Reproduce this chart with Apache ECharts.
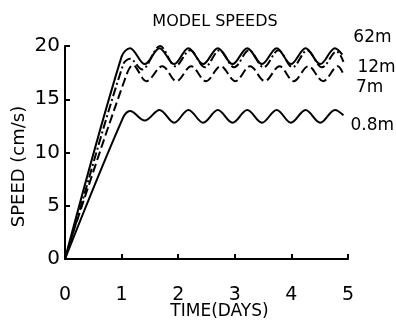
<!DOCTYPE html>
<html><head><meta charset="utf-8">
<script src="https://cdn.jsdelivr.net/npm/echarts@6/dist/echarts.min.js"></script>
<style>html,body{margin:0;padding:0;background:#fff}#c{width:396px;height:320px}</style>
</head><body><div id="c"></div>
<script>
const xTicks = [0, 1, 2, 3, 4, 5];
const yTicks = [0, 5, 10, 15, 20];
const seriesNames = ['62m', '12m', '7m', '0.8m'];
const t62 = [0, 1.0, 1.15, 1.41, 1.67, 1.93, 2.18, 2.44, 2.70, 2.96, 3.22, 3.48, 3.74, 3.99, 4.25, 4.51, 4.77, 4.90];
const v62 = [0, 19.0, 19.8, 18.3, 19.8, 18.3, 19.8, 18.3, 19.8, 18.3, 19.8, 18.3, 19.8, 18.3, 19.8, 18.3, 19.8, 19.2];
const t12 = [0, 0.15, 1.03, 1.15, 1.36, 1.68, 1.95, 2.21, 2.47, 2.73, 2.99, 3.25, 3.51, 3.77, 4.02, 4.28, 4.54, 4.80, 4.92];
const v12 = [0, 2.6, 18.3, 18.8, 17.8, 20.0, 18.1, 19.6, 18.0, 19.6, 18.0, 19.6, 18.0, 19.6, 18.0, 19.6, 18.0, 19.5, 18.5];
const t7 = [0, 0.15, 1.08, 1.2, 1.44, 1.72, 1.97, 2.23, 2.49, 2.75, 3.01, 3.27, 3.53, 3.79, 4.04, 4.30, 4.56, 4.82, 4.93];
const v7 = [0, 2.6, 17.2, 18.2, 16.7, 18.1, 16.7, 18.1, 16.7, 18.1, 16.7, 18.1, 16.7, 18.1, 16.7, 18.1, 16.7, 18.1, 17.2];
const t08 = [0, 1.02, 1.15, 1.41, 1.67, 1.93, 2.18, 2.44, 2.70, 2.96, 3.22, 3.48, 3.74, 3.99, 4.25, 4.51, 4.77, 4.92];
const v08 = [0, 13.2, 13.9, 13.0, 14.0, 12.8, 14.0, 12.8, 14.0, 12.8, 14.0, 12.8, 14.0, 12.8, 14.0, 12.8, 14.0, 13.5];

const pairs = (t, v) => t.map((x, i) => [x, v[i]]);
const font = 'DejaVu Sans, sans-serif';
const chart = echarts.init(document.getElementById('c'), null, {renderer: 'canvas'});
function mk(name, t, v, type, off) {
  return {
    name, type: 'line', data: pairs(t, v), showSymbol: false, symbol: 'none', smooth: 0.35,
    lineStyle: {color: '#000', width: 2, type},
    endLabel: {show: true, formatter: name, color: '#000', fontFamily: font, fontSize: 17, offset: off},
    animation: false
  };
}
chart.setOption({
  animation: false,
  title: {text: 'MODEL SPEEDS', left: 210, top: 9, textAlign: 'center',
    textStyle: {fontFamily: font, fontSize: 16, fontWeight: 'normal', color: '#000'}},
  grid: {left: 65, right: 48, top: 46, bottom: 61, containLabel: false, outerBoundsMode: 'none'},
  xAxis: {type: 'value', min: xTicks[0], max: xTicks[xTicks.length - 1], interval: 1,
    name: 'TIME(DAYS)', nameLocation: 'middle', nameGap: 44, nameMoveOverlap: false,
    nameTextStyle: {fontFamily: font, fontSize: 17, color: '#000', padding: [0, 0, 0, 26]},
    axisLine: {lineStyle: {color: '#000', width: 2}},
    axisTick: {inside: true, length: 5, lineStyle: {color: '#000', width: 2}},
    axisLabel: {fontFamily: font, fontSize: 19, color: '#000', margin: 27},
    splitLine: {show: false}},
  yAxis: {type: 'value', min: yTicks[0], max: yTicks[yTicks.length - 1], interval: 5,
    name: 'SPEED (cm/s)', nameLocation: 'middle', nameGap: 37, nameMoveOverlap: false,
    nameTextStyle: {fontFamily: font, fontSize: 18, color: '#000', padding: [0, 28, 0, 0]},
    axisLine: {show: true, lineStyle: {color: '#000', width: 2}},
    axisTick: {show: true, inside: true, length: 5, lineStyle: {color: '#000', width: 2}},
    axisLabel: {fontFamily: font, fontSize: 20, color: '#000', margin: 5},
    splitLine: {show: false}},
  series: [
    mk(seriesNames[0], t62, v62, 'solid', [3, -17]),
    mk(seriesNames[1], t12, v12, [9, 3, 2, 3], [6, 6]),
    mk(seriesNames[2], t7, v7, [9, 4], [4, 12]),
    mk(seriesNames[3], t08, v08, 'solid', [-1, 10])
  ]
});
</script></body></html>
